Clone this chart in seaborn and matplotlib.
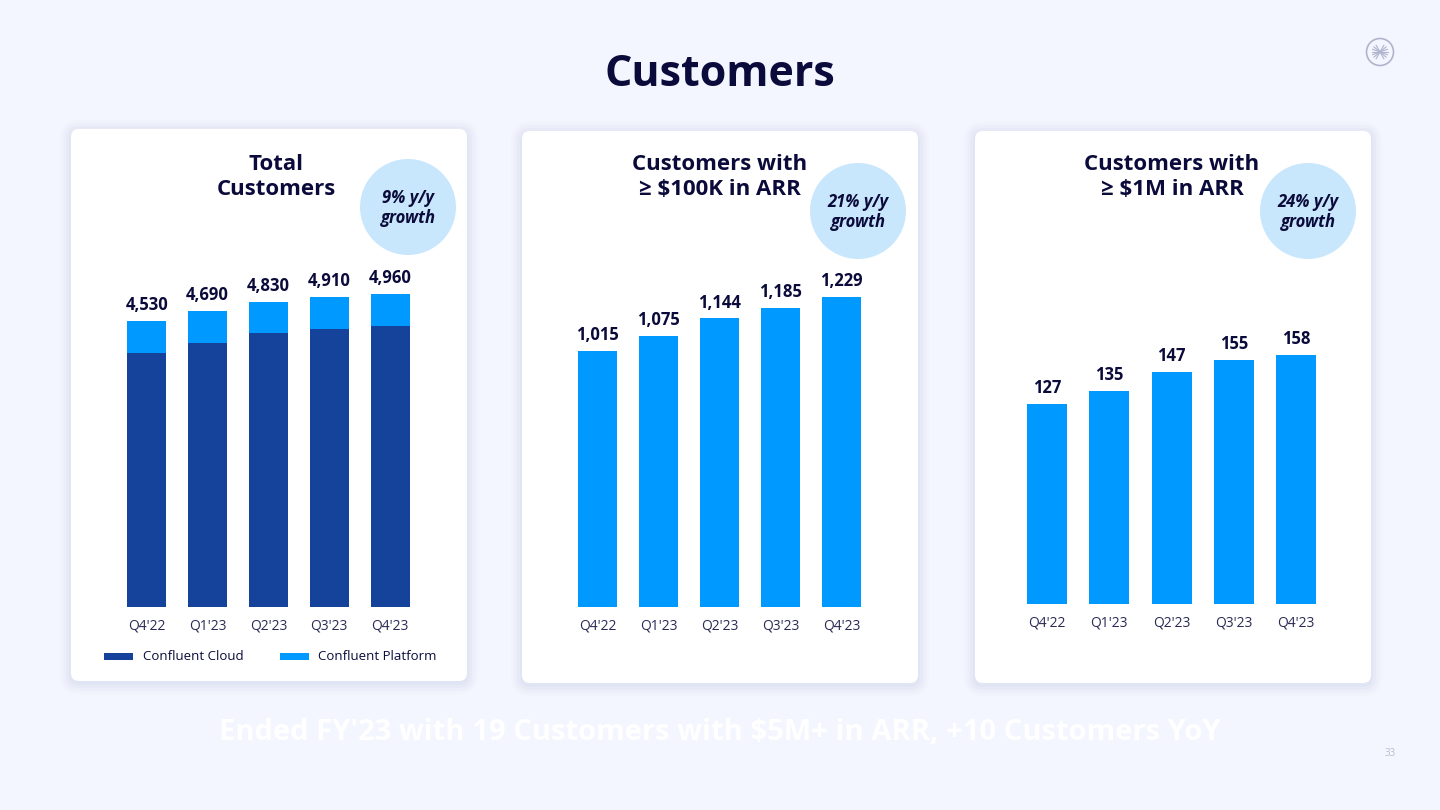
# Customers slide - total / >=$100K ARR / >=$1M ARR, recreated with seaborn
import numpy as np
import matplotlib.pyplot as plt
import seaborn as sns
from matplotlib.patches import FancyBboxPatch, Circle, Rectangle

sns.set_theme(style='white')
plt.rcParams['font.family'] = ['Open Sans', 'DejaVu Sans']

W, H = 1440, 810
BG = '#F3F6FE'
NAVY = '#0B0B3B'
DARK = '#15429A'
LIGHT = '#0099FF'
BUBBLE = '#C9E7FC'

# ── data ──────────────────────────────────────────────────────
quarters = ["Q4'22", "Q1'23", "Q2'23", "Q3'23", "Q4'23"]
cloud = [4030, 4190, 4340, 4400, 4460]
platform = [500, 500, 490, 510, 500]
arr_100k = [1015, 1075, 1144, 1185, 1229]
arr_1m = [127, 135, 147, 155, 158]
titles = ['Total\nCustomers', 'Customers with\n≥ $100K in ARR', 'Customers with\n≥ $1M in ARR']
growth = ['9% y/y\ngrowth', '21% y/y\ngrowth', '24% y/y\ngrowth']
legend_names = ['Confluent Cloud', 'Confluent Platform']

total = [c + p for c, p in zip(cloud, platform)]

fig = plt.figure(figsize=(14.4, 8.1), dpi=100)
fig.patch.set_facecolor(BG)

# full-figure axes in pixel units for the slide decoration
bg = fig.add_axes([0, 0, 1, 1], zorder=0)
bg.set_xlim(0, W)
bg.set_ylim(H, 0)
bg.axis('off')

# panels with soft shadow
panels = [(71, 129), (522, 131), (975, 131)]
for x0, y0 in panels:
    for i, a in enumerate([0.05, 0.04, 0.03, 0.02]):
        g = 2 + i * 3
        bg.add_patch(FancyBboxPatch((x0 - g, y0 - g + 2), 396 + 2 * g, 552 + 2 * g,
                                    boxstyle='round,pad=0,rounding_size=%d' % (8 + g),
                                    fc='#7A86B8', ec='none', alpha=a))
    bg.add_patch(FancyBboxPatch((x0, y0), 396, 552, boxstyle='round,pad=0,rounding_size=8',
                                fc='white', ec='none'))

bg.text(720, 75, 'Customers', ha='center', va='center', fontsize=31,
        fontweight='bold', color=NAVY)

# panel titles and growth bubbles
title_x = [276, 720, 1172]
bubble_xy = [(408, 207), (858, 211), (1308, 211)]
for tx, t, (bx, by), gtxt in zip(title_x, titles, bubble_xy, growth):
    bg.text(tx, 177, t, ha='center', va='center', fontsize=16, fontweight='bold',
            color=NAVY, linespacing=1.3)
    bg.add_patch(Circle((bx, by), 48, fc=BUBBLE, ec='none'))
    bg.text(bx, by + 1, gtxt, ha='center', va='center', fontsize=12, fontweight='bold',
            fontstyle='italic', color=NAVY, linespacing=1.15)

# legend for the stacked panel
bg.add_patch(Rectangle((104, 653), 29, 7, fc=DARK, ec='none'))
bg.text(143, 657, legend_names[0], ha='left', va='center', fontsize=9.5, color=NAVY)
bg.add_patch(Rectangle((280, 653), 29, 7, fc=LIGHT, ec='none'))
bg.text(318, 657, legend_names[1], ha='left', va='center', fontsize=9.5, color=NAVY)

# footer
bg.text(720, 733, "Ended FY'23 with 19 Customers with $5M+ in ARR, +10 Customers YoY",
        ha='center', va='center', fontsize=21, fontweight='bold', color='white')
bg.text(1390, 753, '33', ha='center', va='center', fontsize=7, color='#B8BCD0')

# logo
bg.add_patch(Circle((1380, 52), 13.5, fc='none', ec='#B0B4CC', lw=1.2))
for ang in np.linspace(-60, 60, 7):
    r = np.deg2rad(ang)
    bg.plot([1380, 1380 - 8 * np.cos(r)], [52, 52 - 8 * np.sin(r)], color='#B0B4CC', lw=0.8)
    bg.plot([1380, 1380 + 8 * np.cos(r)], [52, 52 + 8 * np.sin(r)], color='#B0B4CC', lw=0.8)


def bar_axes(c0, step, base, px_per_unit, height=350):
    left = c0 - step / 2
    ax = fig.add_axes([left / W, 1 - base / H, 5 * step / W, height / H], zorder=2)
    ax.set_facecolor('none')
    ax.set_ylim(0, height / px_per_unit)
    return ax


def style_axes(ax):
    ax.set_xlim(-0.5, 4.5)
    ax.set_yticks([])
    ax.set_xlabel('')
    ax.set_ylabel('')
    sns.despine(ax=ax, left=True, bottom=True)
    ax.tick_params(axis='x', length=0, pad=8, labelsize=10, labelcolor='#2A2A55')


bar_kw = dict(saturation=1, linewidth=0, edgecolor='none')

# ── panel 1: stacked total customers ──────────────────────────
ax1 = bar_axes(146.8, 60.8, 607, 0.0631)
w1 = 39 / 60.8
sns.barplot(x=quarters, y=total, color=LIGHT, width=w1, ax=ax1, **bar_kw)
sns.barplot(x=quarters, y=cloud, color=DARK, width=w1, ax=ax1, **bar_kw)
ax1.bar_label(ax1.containers[0], labels=[f'{v:,}' for v in total], padding=5,
              fontsize=12, fontweight='bold', color=NAVY)
style_axes(ax1)

# ── panel 2: >= $100K ARR ─────────────────────────────────────
ax2 = bar_axes(597.8, 61, 607, 0.2522)
sns.barplot(x=quarters, y=arr_100k, color=LIGHT, width=39 / 61, ax=ax2, **bar_kw)
ax2.bar_label(ax2.containers[0], labels=[f'{v:,}' for v in arr_100k], padding=5,
              fontsize=12, fontweight='bold', color=NAVY)
style_axes(ax2)

# ── panel 3: >= $1M ARR ───────────────────────────────────────
ax3 = bar_axes(1047, 62.25, 604, 1.576)
sns.barplot(x=quarters, y=arr_1m, color=LIGHT, width=40 / 62.25, ax=ax3, **bar_kw)
ax3.bar_label(ax3.containers[0], labels=[f'{v:,}' for v in arr_1m], padding=5,
              fontsize=12, fontweight='bold', color=NAVY)
style_axes(ax3)

fig.savefig('out.png', dpi=100, facecolor=BG)
